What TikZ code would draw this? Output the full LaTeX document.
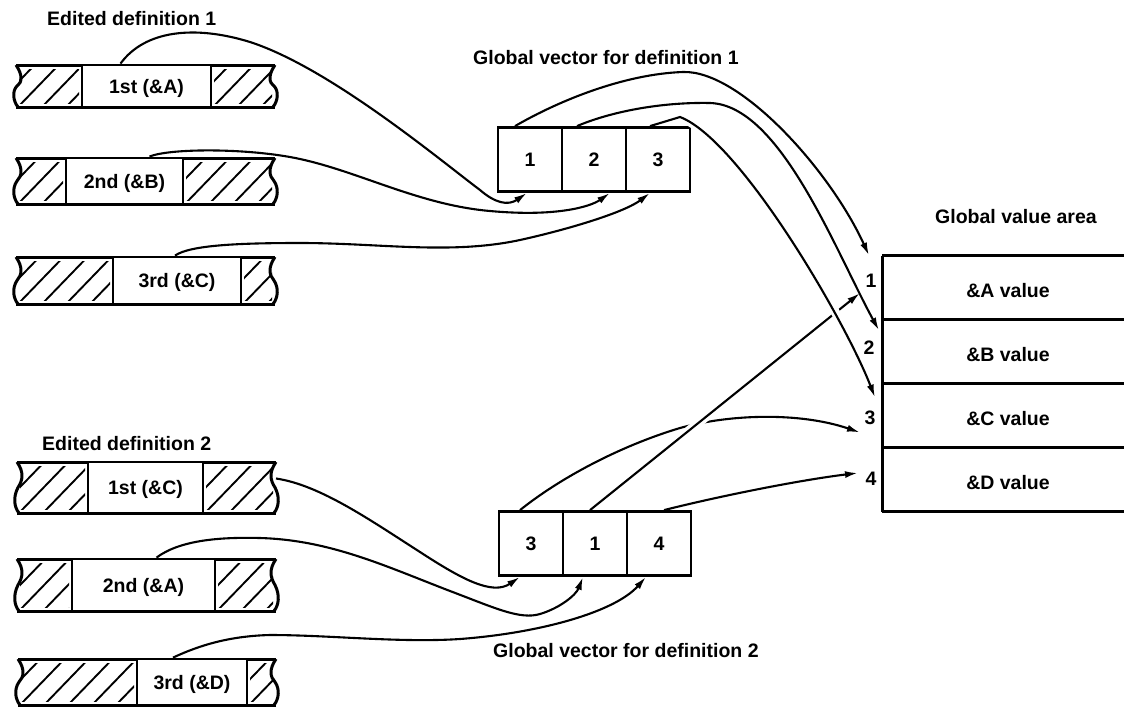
\documentclass[tikz,border=0pt]{standalone}
\usepackage{fontspec}
\setmainfont{Liberation Sans}
\usetikzlibrary{arrows.meta,calc}
\newcommand\mybar[8]{%
  \begin{scope}
    \clip (#2+3,#4+4) rectangle (#6-3,#5-4);
    \foreach \k in {0,...,7} \draw[hatch] ({#2-46+\k*24},#5) -- ++(58,-60);
  \end{scope}
  \begin{scope}
    \clip (#7+3,#4+4) rectangle (#3-3,#5-4);
    \foreach \k in {0,...,7} \draw[hatch] ({#7-46+\k*24},#5) -- ++(58,-60);
  \end{scope}
  \draw[outl] (#2,#4) -- (#3,#4) (#2,#5) -- (#3,#5);
  \draw[outl] (#2,#4) .. controls (#2+7,#4+10) and (#2+6,#4+18) .. (#2+1,{(#4+#5)/2}) .. controls (#2-4,#5-16) and (#2-3,#5-6) .. (#2+2,#5);
  \draw[outl] (#3,#4) .. controls (#3-7,#4+10) and (#3-6,#4+18) .. (#3-1,{(#4+#5)/2}) .. controls (#3+4,#5-16) and (#3+3,#5-6) .. (#3-2,#5);
  \node[wbox, minimum width={#7-#6}, minimum height={#5-#4}] (#1) at ({(#6+#7)/2},{(#4+#5)/2}) {#8};
  \coordinate (#1r) at (#3,{(#4+#5)/2});
}
\begin{document}
\begin{tikzpicture}[x=1pt,y=-1pt,
  every node/.style={font=\fontsize{19.5}{22}\selectfont\bfseries, inner sep=0pt, text height=14pt, text depth=0pt},
  wbox/.style={draw, line width=2.8pt, fill=white, rectangle},
  cell/.style={draw, line width=2.8pt, minimum width=64pt, minimum height=64pt},
  valrow/.style={minimum width=252pt, minimum height=64pt, outer sep=0pt, text height=20pt, text depth=0pt},
  conn/.style={line width=2.1pt, -{Latex[length=13pt,width=7pt]}},
  gapwhite/.style={preaction={draw=white, line width=9pt, shorten <=25pt, shorten >=25pt, -}},
  outl/.style={line width=3pt, line join=round},
  hatch/.style={line width=1.9pt},
  lbl/.style={anchor=base west}]
\useasboundingbox (0,0) rectangle (1124,707);
\fill[white] (0,0) rectangle (1124,707);

% labels
\node[lbl] (t1) at (47,25) {Edited definition 1};
\node[lbl] (t2) at (473,64) {Global vector for definition 1};
\node[lbl] (t3) at (935,223) {Global value area};
\node[lbl] (t4) at (42,450) {Edited definition 2};
\node[lbl] (t5) at (493,657) {Global vector for definition 2};

% bars
\mybar{b1}{16}{275}{65}{107}{82}{211}{1st (\&A)}
\mybar{b2}{16}{275}{158}{204}{66}{183}{2nd (\&B)}
\mybar{b3}{16}{275}{257}{304}{113}{241}{3rd (\&C)}
\mybar{b4}{17}{276}{462}{513}{88}{203}{1st (\&C)}
\mybar{b5}{17}{276}{559}{611}{72}{215}{2nd (\&A)}
\mybar{b6}{18}{276}{659}{705}{137}{247}{3rd (\&D)}

% global vectors
\node[cell] (v11) at (530,159.5) {1};
\node[cell] (v12) at (594,159.5) {2};
\node[cell] (v13) at (658,159.5) {3};
\node[cell] (v23) at (531,543.5) {3};
\node[cell] (v21) at (595,543.5) {1};
\node[cell] (v24) at (659,543.5) {4};

% global value area
\node[valrow] (val1) at (1008,287.5) {\&A value};
\node[valrow] (val2) at (1008,351.5) {\&B value};
\node[valrow] (val3) at (1008,415.5) {\&C value};
\node[valrow] (val4) at (1008,479.5) {\&D value};
\draw[outl] (val1.north west) -- ++(260,0);
\draw[outl] (val1.south west) -- ++(260,0);
\draw[outl] (val2.south west) -- ++(260,0);
\draw[outl] (val3.south west) -- ++(260,0);
\draw[outl] (val4.south west) -- ++(260,0);
\draw[outl] (val1.north west) -- (val4.south west);

% connectors: definition 1
\draw[conn] ($(b1.north)+(-26,0)$) .. controls (145,30) and (195,25) .. (250,42) .. controls (330,68) and (440,160) .. (480,190) .. controls (495,203) and (508,206) .. ($(v11.south)+(-3,0)$);
\draw[conn] ($(b2.north)+(25,0)$) .. controls (170,148) and (250,148) .. (300,159) .. controls (360,172) and (420,205) .. (490,211) .. controls (555,217) and (590,207) .. ($(v12.south)+(16,0)$);
\draw[conn] ($(b3.north)+(-2,0)$) .. controls (190,245) and (240,243) .. (300,243) .. controls (380,243) and (450,255) .. (520,240) .. controls (570,229) and (625,212) .. ($(v13.south)+(-8,0)$);

% connectors: definition 2
\draw[conn] ($(b4r)+(0,-9)$) .. controls (320,485) and (370,520) .. (420,552) .. controls (460,578) and (492,596) .. ($(v23.south)+(-11,0)$);
\draw[conn] ($(b5.north)+(13,0)$) .. controls (180,540) and (220,537) .. (260,538) .. controls (330,540) and (385,566) .. (450,591) .. controls (495,608) and (520,620) .. (540,614) .. controls (560,608) and (576,595) .. ($(v21.south)+(-12,0)$);
\draw[conn] ($(b6.north)+(-19,0)$) .. controls (200,645) and (230,636) .. (270,635) .. controls (330,635) and (400,643) .. (460,639) .. controls (540,633) and (615,612) .. ($(v24.south)+(-13,0)$);

% vector 1 -> value area
\draw[conn] ($(v11.north)+(-15,0)$) .. controls (560,100) and (625,74) .. (683,72) .. controls (740,70) and (830,170) .. ($(val1.north west)+(-13,0)$);
\draw[conn] ($(v12.north)+(-17,0)$) .. controls (610,112) and (660,102) .. (710,103) .. controls (780,105) and (835,250) .. ($(val2.north west)+(-3,11)$);

% vector 2 -> value area
\draw[conn] ($(v23.north)+(-11,0)$) .. controls (560,478) and (620,446) .. (680,428) .. controls (730,414) and (800,412) .. ($(val3.west)+(-22,17)$);
\draw[conn, gapwhite] ($(v21.north)+(-5,0)$) -- ($(val1.west)+(-22,5.5)$);
\draw[conn] ($(v24.north)+(5,0)$) .. controls (720,496) and (800,480) .. ($(val4.west)+(-24,-6.5)$);

% vector 1, cell 3 -> value area (over the line from vector 2)
\draw[conn, gapwhite] ($(v13.north)+(-8,0)$) -- (680,117) .. controls (740,140) and (845,320) .. ($(val3.north west)+(-7,14)$);

% row numbers
\node (n1) at (871,280) {1};
\node (n2) at (869,347) {2};
\node (n3) at (870,417) {3};
\node (n4) at (871,478) {4};
\end{tikzpicture}
\end{document}
